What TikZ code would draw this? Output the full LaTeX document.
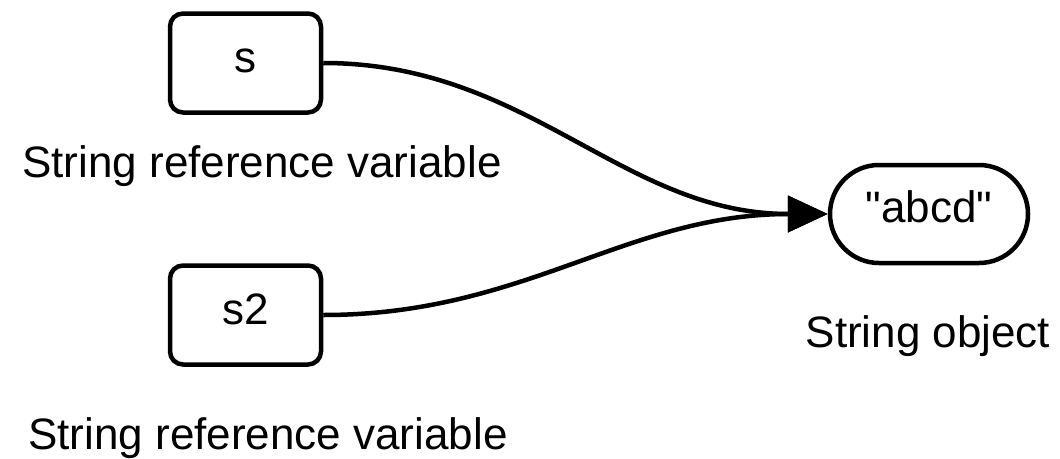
\documentclass[tikz,border=0pt]{standalone}
\usepackage{fontspec}
\newfontfamily\arialish{Liberation Sans}
\usetikzlibrary{arrows.meta}
\begin{document}
\begin{tikzpicture}[x=1pt,y=-1pt,
  every node/.style={font=\arialish\fontsize{44}{50}\selectfont},
  varbox/.style={draw,line width=4.5pt,rounded corners=13pt,minimum width=151pt,minimum height=99pt,inner sep=0pt,text height=32pt,text depth=14pt},
  objbox/.style={draw,line width=4.5pt,rounded corners=49pt,minimum width=198pt,minimum height=98pt,inner sep=0pt,text height=31pt,text depth=15pt},
  lbl/.style={anchor=base,inner sep=0pt},
  link/.style={line width=4.5pt,-{Triangle[length=40pt,width=36pt]}}]
\useasboundingbox (0,0) rectangle (1060,458);
\node[varbox] (s) at (245.5,63) {s};
\node[varbox] (s2) at (245.5,315) {s2};
\node[objbox] (obj) at (929,214) {"abcd"};
\node[lbl] (l1) at (262,177) {String reference variable};
\node[lbl] (l2) at (268,449) {String reference variable};
\node[lbl] (l3) at (928,347) {String object};
\draw[link] (s.east) to[out=0,in=180] (obj.west);
\draw[link] (s2.east) to[out=0,in=180] (obj.west);
\end{tikzpicture}
\end{document}
